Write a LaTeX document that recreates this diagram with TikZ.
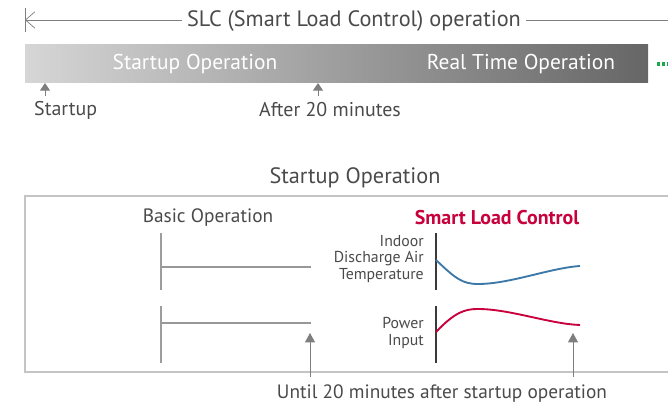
\documentclass[tikz,border=0pt]{standalone}
\usepackage{fontspec}
\setmainfont{PT Sans}
\usepackage{tikz}
\usetikzlibrary{arrows.meta,positioning}
\definecolor{txtgray}{HTML}{4A4A4A}
\definecolor{linegray}{HTML}{7E7E7E}
\definecolor{boxgray}{HTML}{C4C4C4}
\definecolor{axisdark}{HTML}{3A3A3A}
\definecolor{barleft}{HTML}{D6D6D6}
\definecolor{barright}{HTML}{666666}
\definecolor{slcred}{HTML}{C8003C}
\definecolor{slcblue}{HTML}{3C78A8}
\definecolor{slcgreen}{HTML}{1FA84A}

\begin{document}
\begin{tikzpicture}[
    x=0.03cm, y=-0.03cm,
    every node/.style={font=\fontsize{16.5}{18}\selectfont, text=txtgray, inner sep=0pt},
    bigtext/.style={font=\fontsize{19}{21}\selectfont},
    barlabel/.style={text=white, font=\fontsize{18.3}{20}\selectfont},
    marklabel/.style={font=\fontsize{17}{19}\selectfont},
    graphlabel/.style={font=\fontsize{13.5}{14.4}\selectfont, align=right, anchor=east},
    smallarrow/.style={draw=linegray, line width=0.8pt, -{Triangle[length=6.5pt, width=8.5pt]}},
    bigarrow/.style={draw=linegray, line width=0.7pt, -{Triangle[length=8pt, width=8.5pt]}},
    basicaxis/.style={draw=boxgray!80!black, line width=1.1pt},
    slcaxis/.style={draw=axisdark, line width=1.1pt},
    flatline/.style={draw=linegray!80, line width=2.2pt}
]
\useasboundingbox (0,0) rectangle (668,405);

% top: SLC range
\node[bigtext, inner xsep=4pt] (slc) at (354,21.5) {SLC (Smart Load Control) operation};
\coordinate (slcL) at (25,20);
\coordinate (slcR) at (668,20);
\draw[linegray, line width=0.6pt] (25,8) -- (25,32);
\draw[linegray, line width=0.6pt, {Straight Barb[length=8pt, width=14pt]}-] (slcL) -- (slc.west |- slcL);
\draw[linegray, line width=0.6pt] (slc.east |- slcR) -- (slcR);

% gradient bar
\shade[left color=barleft, right color=barright] (25,45) rectangle (648,83);
\node[barlabel] (startop) at (195,64.5) {Startup Operation};
\node[barlabel] (realop) at (521,64.5) {Real Time Operation};
\draw[slcgreen, line width=2.8pt, dash pattern=on 2.4pt off 1.8pt] (657,64) -- (668,64);

% time marks
\node[marklabel, anchor=west] (startup) at (34,110) {Startup};
\node[marklabel] (after) at (330,110) {After 20 minutes};
\coordinate (startTip) at (45,83);
\coordinate (afterTip) at (318,83);
\draw[smallarrow] (45,96) -- (startTip);
\draw[smallarrow] (318,96) -- (afterTip);

% startup operation detail
\node[bigtext] (title) at (355,177.5) {Startup Operation};
\draw[boxgray, line width=0.9pt] (668,196) -| (25,372) -- (668,372);
\node (basic) at (208,217.5) {Basic Operation};
\node[text=slcred, font=\fontsize{17}{19}\selectfont\bfseries] (smart) at (497,217.5) {Smart Load Control};

% basic operation graphs
\foreach \y in {233,306} {
    \draw[basicaxis] (161,\y) -- (161,\y+57);
}
\draw[flatline] (161,267) -- (311,267);
\draw[flatline] (161,323) -- (311,323);

% smart load control graphs
\foreach \y in {233,306} {
    \draw[slcaxis] (436,\y) -- (436,\y+57);
}
\node[graphlabel] (templbl) at (424,259) {Indoor\\Discharge Air\\Temperature};
\node[graphlabel] (powerlbl) at (424,333) {Power\\Input};
\draw[slcblue, line width=1.6pt] (436,260) .. controls (455,278) and (462,284) .. (478,284)
    .. controls (510,284) and (550,268) .. (580,266);
\draw[slcred, line width=1.6pt] (436,332) .. controls (455,312) and (465,309) .. (478,309)
    .. controls (510,309) and (550,324) .. (580,325);

% 20 minute marks
\node (until) at (442,393.5) {Until 20 minutes after startup operation};
\coordinate (basicEnd) at (310,333);
\coordinate (slcEnd) at (573,333);
\draw[bigarrow] (310,377) -- (basicEnd);
\draw[bigarrow] (573,377) -- (slcEnd);
\end{tikzpicture}
\end{document}
